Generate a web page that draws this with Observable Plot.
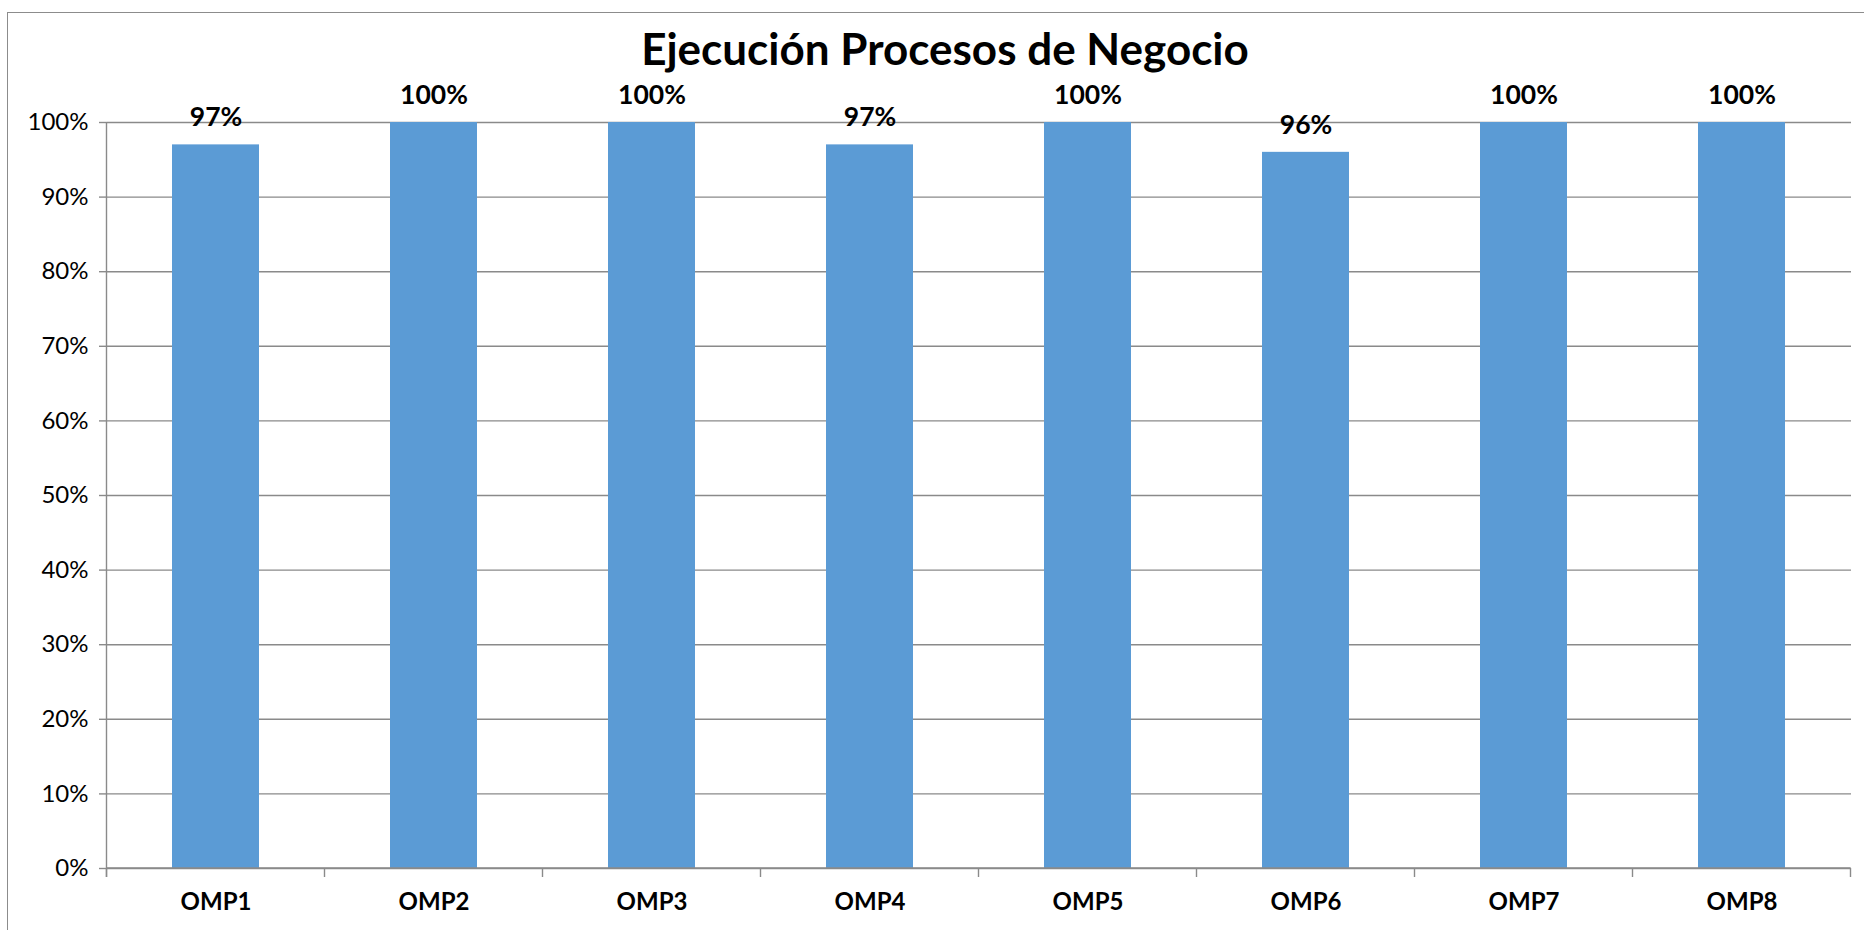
<!DOCTYPE html>
<html>
<head>
<meta charset="utf-8">
<script src="https://cdn.jsdelivr.net/npm/d3@7"></script>
<script src="https://cdn.jsdelivr.net/npm/@observablehq/plot@0.6"></script>
<style>
  html, body { margin: 0; padding: 0; background: #fff; overflow: hidden; }
  #wrap { position: relative; width: 1864px; height: 930px; font-family: Lato, "Open Sans", sans-serif; }
  #frame { position: absolute; left: 7px; top: 12px; width: 1880px; height: 960px; border: 1.5px solid #8c8c8c; box-sizing: border-box; }
  #title { position: absolute; left: 945px; top: 20px; transform: translateX(-50%); white-space: nowrap;
           font-size: 44px; font-weight: bold; color: #000; line-height: 56px; }
  #chart { position: absolute; left: 0; top: 0; }
</style>
</head>
<body>
<div id="wrap">
  <div id="frame"></div>
  <div id="chart"></div>
  <div id="title">Ejecución Procesos de Negocio</div>
</div>
<script>
const categories = ["OMP1", "OMP2", "OMP3", "OMP4", "OMP5", "OMP6", "OMP7", "OMP8"];
const values = [97, 100, 100, 97, 100, 96, 100, 100];
const yTicks = [0, 10, 20, 30, 40, 50, 60, 70, 80, 90, 100];

const data = categories.map((c, i) => ({cat: c, value: values[i]}));
const gray = "#8a8a8a";

const plot = Plot.plot({
  width: 1864,
  height: 930,
  marginLeft: 107,
  marginRight: 13,
  marginTop: 122,
  marginBottom: 62,
  style: {fontFamily: "Lato, 'Open Sans', sans-serif", background: "transparent", overflow: "visible"},
  x: {domain: categories, paddingInner: 0.6, paddingOuter: 0.3, label: null},
  y: {domain: [0, 100], label: null},
  marks: [
    Plot.gridY(yTicks, {stroke: gray, strokeOpacity: 1, strokeWidth: 1.4}),
    Plot.barY(data, {x: "cat", y: "value", fill: "#5B9BD5"}),
    Plot.axisY(yTicks, {tickFormat: d => d + "%", tickSize: 8, tickPadding: 11, fontSize: 24,
                        stroke: gray, strokeOpacity: 1, strokeWidth: 1.4, fill: "#000"}),
    Plot.axisX({tickSize: 0, tickPadding: 24, fontSize: 24, fontWeight: "bold", fill: "#000"}),
    Plot.text(data, {x: "cat", y: "value", text: d => d.value + "%", dy: -27,
                     fontSize: 26.5, fontWeight: "bold", fill: "#000"})
  ]
});

// Axis line and category divider ticks, positioned from Plot's own scales
const xs = plot.scale("x");
const ys = plot.scale("y");
const y0 = ys.apply(0), y100 = ys.apply(100);
const off = (xs.step - xs.bandwidth) / 2;
const bounds = categories.map(c => xs.apply(c) - off);
bounds.push(xs.apply(categories[categories.length - 1]) + xs.bandwidth + off);
const g = d3.select(plot).append("g").attr("stroke", gray).attr("stroke-width", 1.4);
g.append("line").attr("x1", bounds[0]).attr("x2", bounds[0]).attr("y1", y100).attr("y2", y0 + 9);
g.append("line").attr("x1", bounds[0]).attr("x2", bounds[bounds.length - 1]).attr("y1", y0).attr("y2", y0);
bounds.forEach(b => g.append("line").attr("x1", b).attr("x2", b).attr("y1", y0).attr("y2", y0 + 9));

document.getElementById("chart").appendChild(plot);
</script>
</body>
</html>
